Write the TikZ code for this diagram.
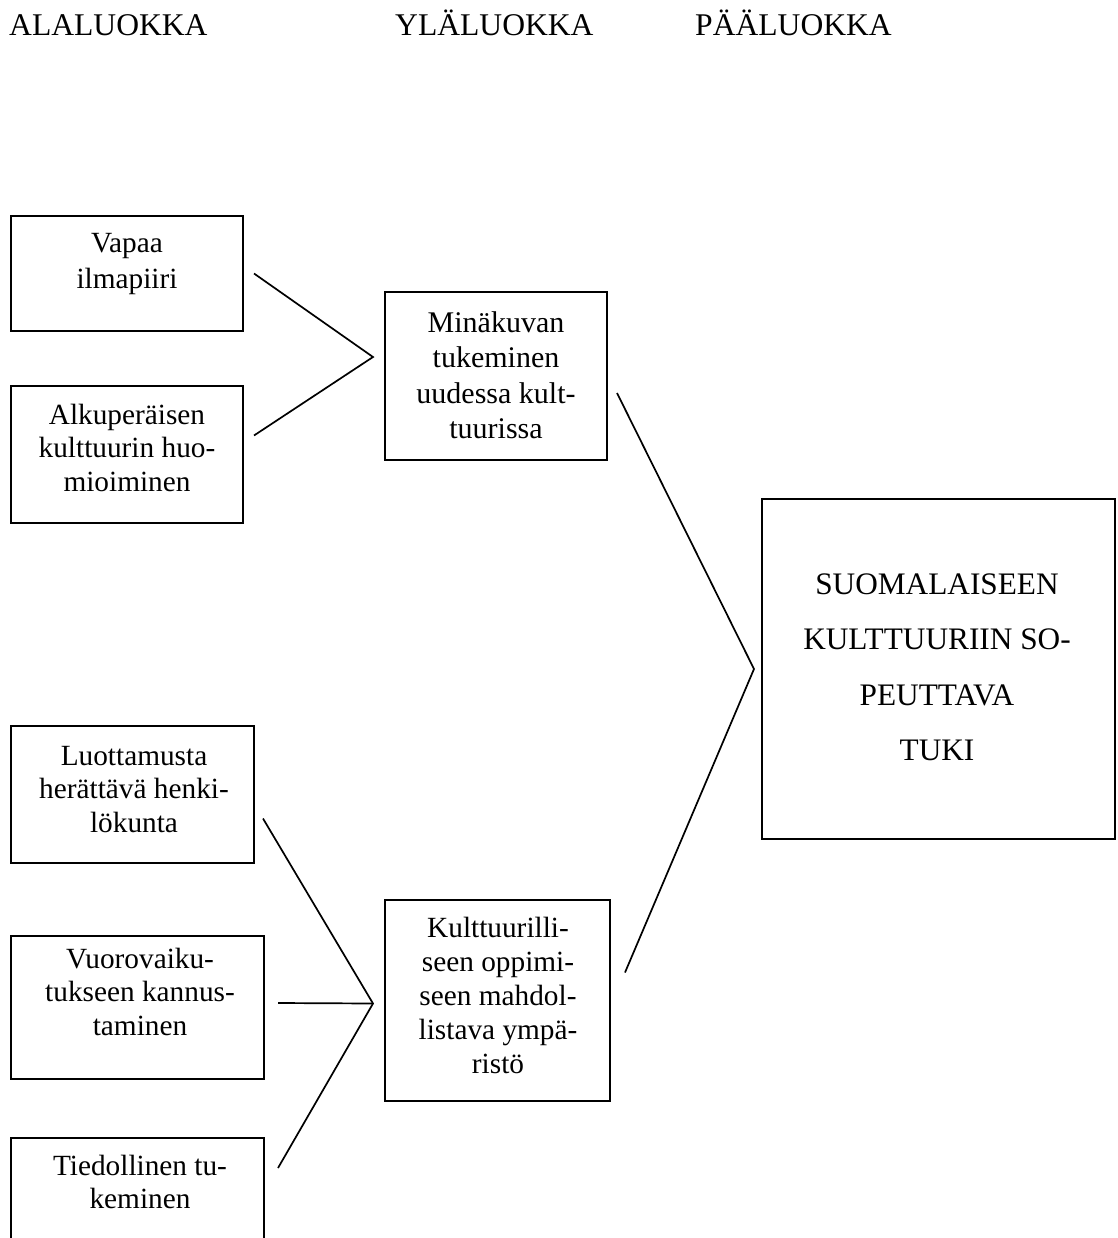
\documentclass[tikz,border=0pt]{standalone}
\usepackage{fontspec}
\setmainfont{Liberation Serif}
\usetikzlibrary{calc}
\newcommand\fstrut{\rule{0pt}{25pt}}
\begin{document}
\begin{tikzpicture}[x=1pt,y=-1pt,
  box/.style={draw, line width=1.7pt, rectangle, inner sep=0pt, outer sep=0pt, anchor=north west},
  txt/.style={align=center, inner sep=0pt, anchor=north, font=\fontsize{29.3}{33.7}\selectfont},
  hdr/.style={inner sep=0pt, anchor=base west, font=\fontsize{31.6}{36}\selectfont},
  conn/.style={line width=1.7pt}]
\useasboundingbox (0,0) rectangle (1117,1238);
\clip (0,0) rectangle (1117,1238);
% headers
\node[hdr] (h1) at (9,36) {ALALUOKKA};
\node[hdr] (h2) at (395,36) {YLÄLUOKKA};
\node[hdr] (h3) at (695,36) {PÄÄLUOKKA};
% boxes
\node[box, minimum width=232pt, minimum height=115pt] (a1) at (11,216) {};
\node[box, minimum width=232pt, minimum height=137pt] (a2) at (11,386) {};
\node[box, minimum width=243pt, minimum height=137pt] (a3) at (11,726) {};
\node[box, minimum width=253pt, minimum height=143pt] (a4) at (11,936) {};
\node[box, minimum width=253pt, minimum height=200pt] (a5) at (11,1138) {};
\node[box, minimum width=222pt, minimum height=168pt] (y1) at (385,292) {};
\node[box, minimum width=225pt, minimum height=201pt] (y2) at (385,900) {};
\node[box, minimum width=353pt, minimum height=340pt] (p) at (762,499) {};
% texts
\node[txt, font=\fontsize{29.3}{36}\selectfont] (a1t) at (127,227) {\fstrut Vapaa\\ilmapiiri};
\node[txt] (a2t) at (127,399) {\fstrut Alkuperäisen\\kulttuurin huo-\\mioiminen};
\node[txt] (a3t) at (134,740) {\fstrut Luottamusta\\herättävä henki-\\lökunta};
\node[txt] (a4t) at (140,943) {\fstrut Vuorovaiku-\\tukseen kannus-\\taminen};
\node[txt] (a5t) at (140,1150) {\fstrut Tiedollinen tu-\\keminen};
\node[txt, font=\fontsize{30}{35.5}\selectfont] (y1t) at (496,307) {\fstrut Minäkuvan\\tukeminen\\uudessa kult-\\tuurissa};
\node[txt, font=\fontsize{29.3}{34}\selectfont] (y2t) at (498,912) {\fstrut Kulttuurilli-\\seen oppimi-\\seen mahdol-\\listava ympä-\\ristö};
\node[txt, font=\fontsize{31.3}{55.5}\selectfont] (pt) at (937,569) {\fstrut SUOMALAISEEN\\KULTTUURIIN SO-\\PEUTTAVA\\TUKI};
% connectors
\coordinate (j1) at ($(y1.west)+(-12,-19)$);
\draw[conn] ($(a1.east)+(11,0)$) -- (j1) -- ($(a2.east)+(11,-19)$);
\coordinate (j2) at ($(p.west)+(-8,0)$);
\draw[conn] ($(y1.east)+(10,17)$) -- (j2) -- ($(y2.east)+(15,-28)$);
\coordinate (j3) at ($(y2.west)+(-12,3)$);
\draw[conn] ($(a3.east)+(9,24)$) -- (j3) -- ($(a5.north east)+(14,30)$);
\draw[conn] ($(a4.east)+(14,-4.5)$) -- (j3);
\end{tikzpicture}
\end{document}
